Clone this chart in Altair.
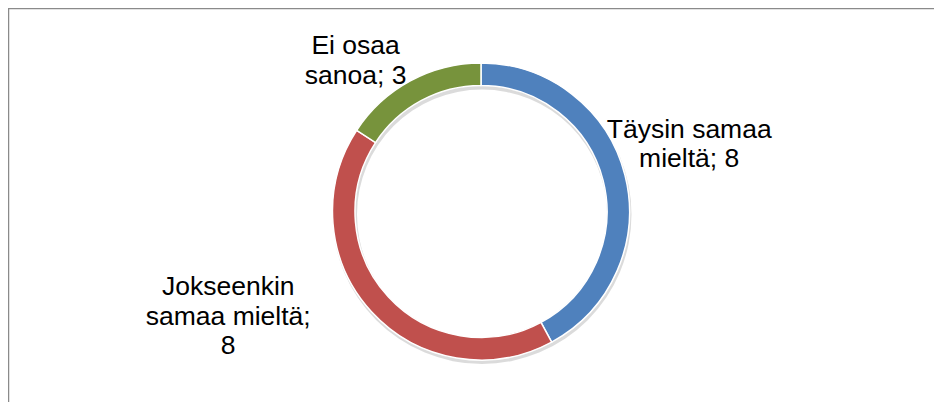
import altair as alt
import pandas as pd

# Data
categories = ["Täysin samaa mieltä", "Jokseenkin samaa mieltä", "Ei osaa sanoa"]
values = [8, 8, 3]
colors = ["#4F81BD", "#C0504D", "#77933C"]
labels = ["Täysin samaa\nmieltä; 8", "Jokseenkin\nsamaa mieltä;\n8", "Ei osaa\nsanoa; 3"]

df = pd.DataFrame({
    "category": categories,
    "value": values,
    "order": list(range(len(categories))),
    "label": labels,
})
total = sum(values)

W, H = 926, 394
CX, CY = 473, 203.5
R_OUT, R_IN = 148.5, 126
R_LABEL = 190
# per-label nudges (dx, dy) from the slice-midpoint position
nudges = [(24, -35), (-113, -53), (-35, 2)]

base = alt.Chart(df)

theta_scale = alt.Scale(domain=[0, total])

shadow = alt.Chart(alt.Data(values=[{"a": 1}])).mark_arc(
    theta=0, theta2=6.2832, outerRadius=R_OUT + 1, innerRadius=R_IN - 1,
    color="#000000", opacity=0.14,
).encode(x=alt.value(CX + 1), y=alt.value(CY + 3))

ring = base.mark_arc(
    outerRadius=R_OUT, innerRadius=R_IN, stroke="white", strokeWidth=1.5
).encode(
    theta=alt.Theta("value:Q", stack=True, scale=theta_scale),
    order=alt.Order("order:Q"),
    color=alt.Color("category:N", scale=alt.Scale(domain=categories, range=colors), legend=None),
    x=alt.value(CX),
    y=alt.value(CY),
)

text_layers = []
for i, (ddx, ddy) in enumerate(nudges):
    t = base.transform_window(
        cum="sum(value)", sort=[alt.SortField("order")], frame=[None, 0]
    ).transform_calculate(
        mid="datum.cum - datum.value / 2"
    ).transform_filter(
        alt.datum.order == i
    ).mark_text(
        radius=R_LABEL, font="Liberation Sans", fontSize=26.5, lineHeight=29.5,
        lineBreak="\n", align="center", baseline="middle", color="#000000",
        dx=ddx, dy=ddy,
    ).encode(
        theta=alt.Theta("mid:Q", scale=theta_scale),
        text="label:N",
        x=alt.value(CX),
        y=alt.value(CY),
    )
    text_layers.append(t)

frame_data = alt.Data(values=[{"a": 1}])
top_rule = alt.Chart(frame_data).mark_rule(color="#8a8a8a", strokeWidth=2.5).encode(
    x=alt.value(0), x2=alt.value(W), y=alt.value(0)
)
left_rule = alt.Chart(frame_data).mark_rule(color="#8a8a8a", strokeWidth=2.5).encode(
    x=alt.value(0), y=alt.value(0), y2=alt.value(H)
)

chart = alt.layer(shadow, ring, *text_layers, top_rule, left_rule).properties(
    width=W, height=H, autosize=alt.AutoSizeParams(type="none"), padding=0,
    background="white",
).configure_view(strokeWidth=0)

chart.save("out.html", embed_options={"renderer": "svg", "actions": False})
